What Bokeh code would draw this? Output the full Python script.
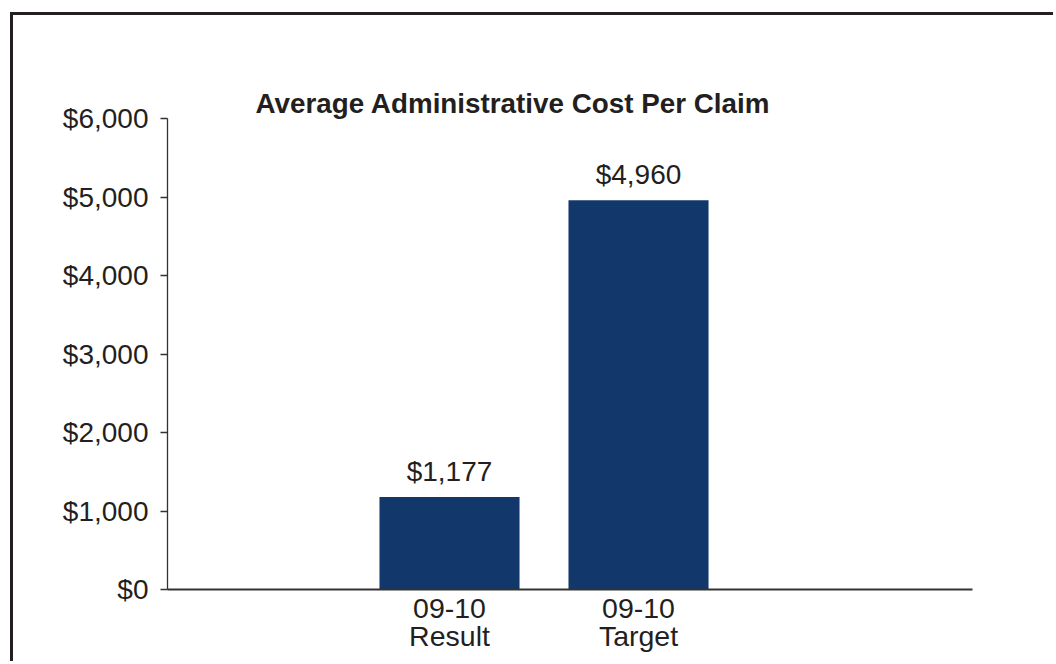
from bokeh.plotting import figure
from bokeh.models import (ColumnDataSource, Range1d, FixedTicker, NumeralTickFormatter,
                          LabelSet, LinearAxis)
from bokeh.core.properties import value
from bokeh.embed import file_html
from bokeh.resources import INLINE

# ---- data ----
cat_period = ["09-10", "09-10"]
cat_kind = ["Result", "Target"]
values = [1177, 4960]
y_ticks = [0, 1000, 2000, 3000, 4000, 5000, 6000]
title_text = "Average Administrative Cost Per Claim"

FONT = "Liberation Sans"
TXT = "#231f20"
BAR = "#12386b"
AX = "#333333"

xs = [i + 1 for i in range(len(values))]
labels = ["${:,}".format(v) for v in values]
src = ColumnDataSource(dict(x=xs, top=values, label=labels))

p = figure(width=1043, height=649,
           x_range=Range1d(-0.492, 3.767), y_range=Range1d(0, 6000),
           output_backend="svg", toolbar_location=None,
           min_border_left=154, min_border_right=84,
           min_border_top=103, min_border_bottom=75,
           margin=(12, 0, 0, 10),
           styles={"border-top": "3px solid #231f20", "border-left": "3px solid #231f20"},
           title=title_text)

p.title.text_font = FONT
p.title.text_font_size = "27.8px"
p.title.text_font_style = "bold"
p.title.text_color = TXT
p.title.align = "left"
p.title.offset = 88
p.title.standoff = 0

p.outline_line_color = None
p.xgrid.visible = False
p.ygrid.visible = False
p.background_fill_color = "white"
p.border_fill_color = "white"

p.vbar(x="x", top="top", width=0.741, source=src, fill_color=BAR, line_color=None)

p.add_layout(LabelSet(x="x", y="top", text="label", source=src,
                      text_align="center", text_baseline="alphabetic", y_offset=16,
                      text_font=value(FONT), text_font_size="28px", text_color=TXT))

ya = p.left[0]
ya.ticker = FixedTicker(ticks=y_ticks)
ya.formatter = NumeralTickFormatter(format="$0,0")
ya.major_tick_out = 7
ya.major_tick_in = 0
ya.minor_tick_out = 0
ya.minor_tick_in = 0
ya.major_label_standoff = 12
ya.major_label_text_font = FONT
ya.major_label_text_font_size = "28px"
ya.major_label_text_color = TXT
ya.axis_line_color = AX
ya.axis_line_width = 1.3
ya.major_tick_line_color = AX
ya.major_tick_line_width = 1.3

xa = p.below[0]
xa.ticker = FixedTicker(ticks=xs)
xa.major_label_overrides = {x: c for x, c in zip(xs, cat_period)}
xa.major_tick_out = 0
xa.major_tick_in = 0
xa.minor_tick_out = 0
xa.minor_tick_in = 0
xa.major_label_standoff = 9
xa.major_label_text_font = FONT
xa.major_label_text_font_size = "28.5px"
xa.major_label_text_color = TXT
xa.axis_line_color = AX
xa.axis_line_width = 2

xa2 = LinearAxis(ticker=FixedTicker(ticks=xs),
                 major_label_overrides={x: c for x, c in zip(xs, cat_kind)})
xa2.major_tick_out = 0
xa2.major_tick_in = 0
xa2.minor_tick_out = 0
xa2.minor_tick_in = 0
xa2.major_label_standoff = -1
xa2.major_label_text_font = FONT
xa2.major_label_text_font_size = "28.5px"
xa2.major_label_text_color = TXT
xa2.axis_line_color = None
p.add_layout(xa2, "below")

# invisible spacer axis between title and plot frame
spacer = LinearAxis(ticker=FixedTicker(ticks=[]), axis_line_color=None,
                    major_tick_out=59, major_tick_in=0,
                    minor_tick_out=0, minor_tick_in=0,
                    major_tick_line_color=None, minor_tick_line_color=None)
p.add_layout(spacer, "above")

open("out.html", "w").write(file_html(p, INLINE))
